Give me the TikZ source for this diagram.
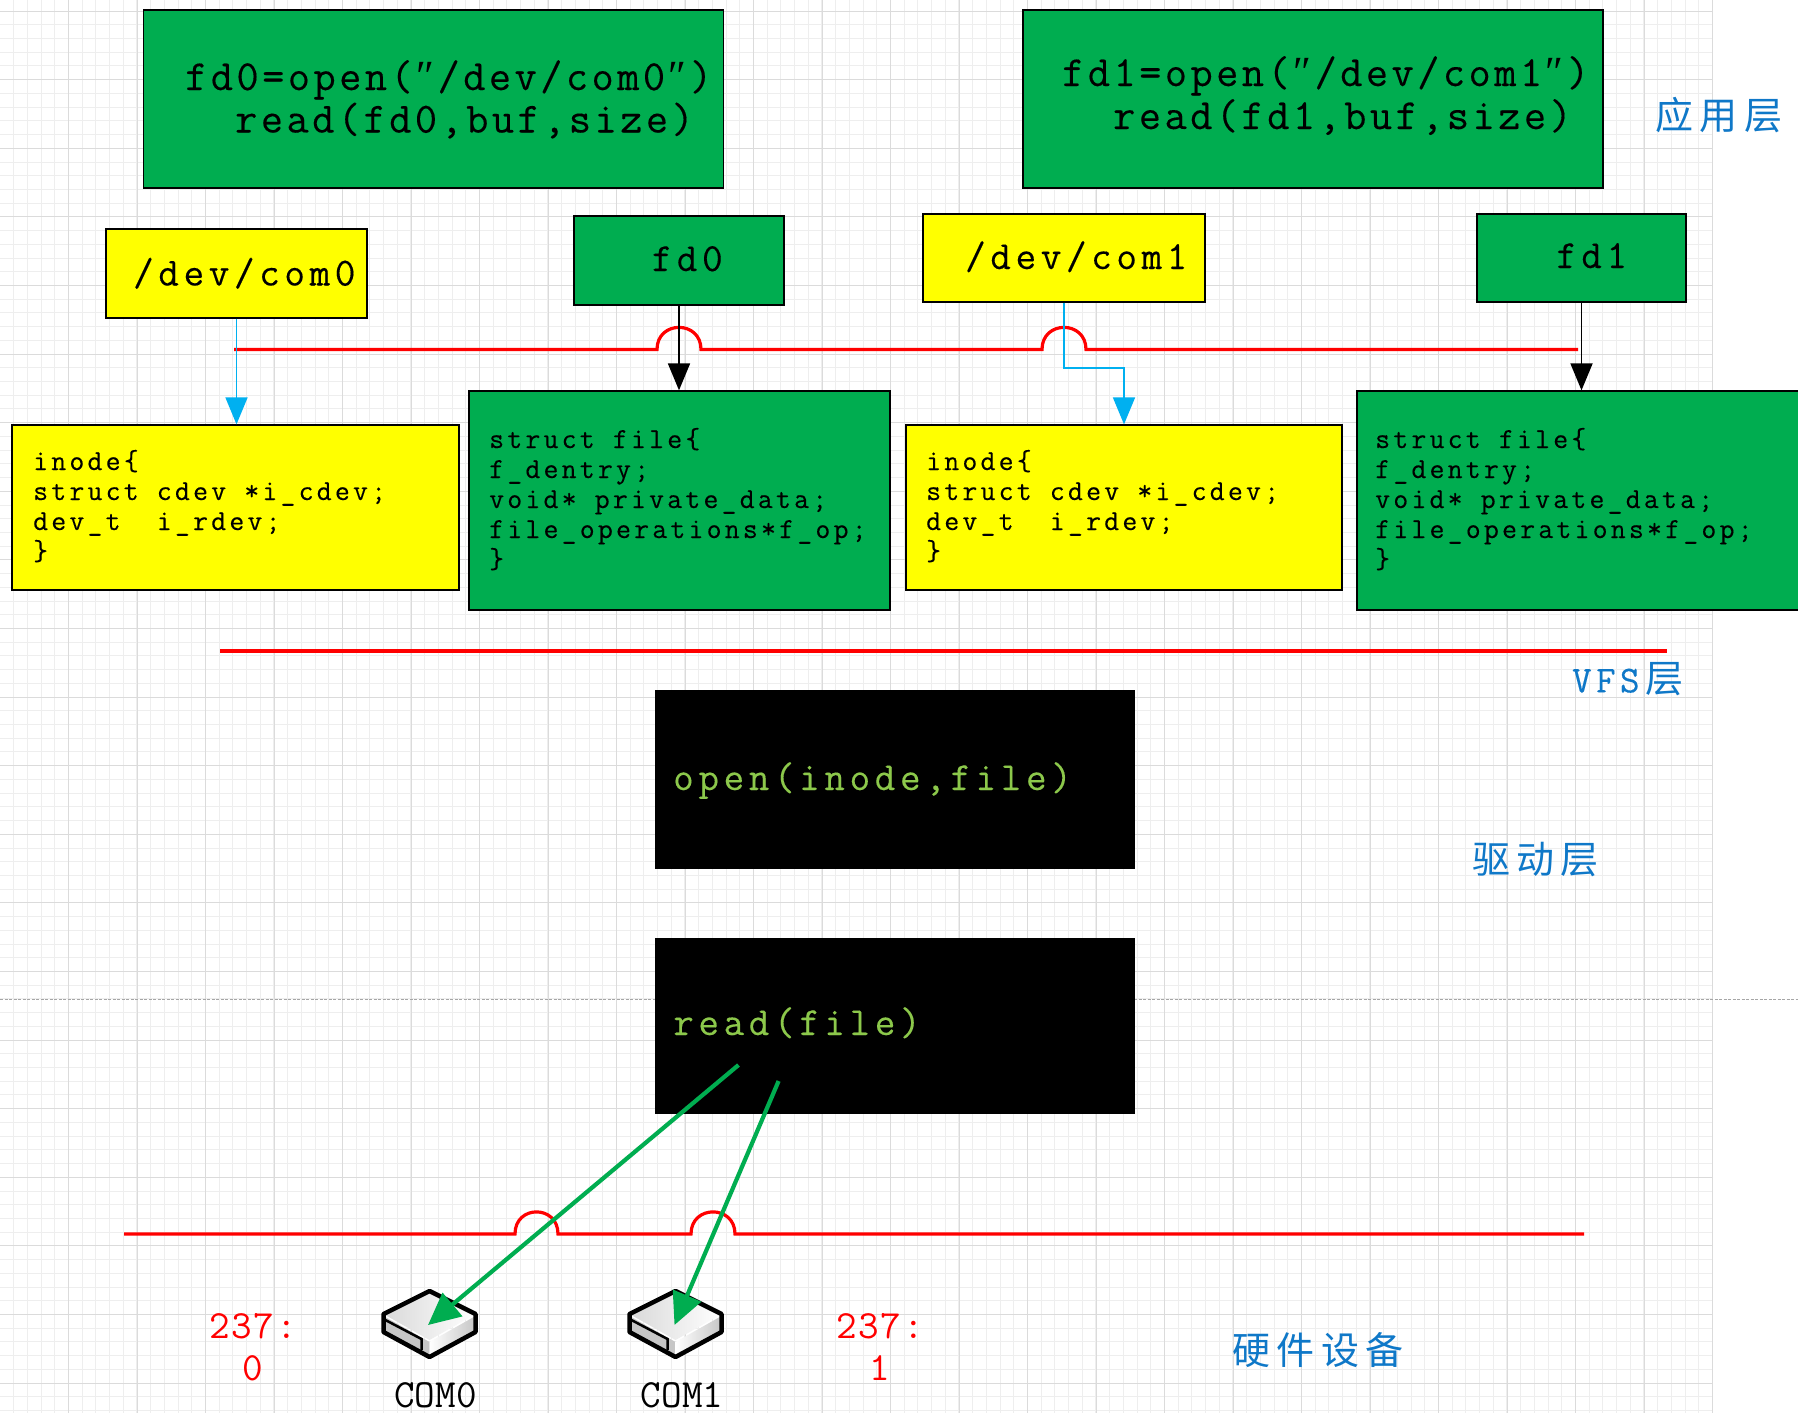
\documentclass[tikz,border=0pt]{standalone}
\usepackage{fontspec}
\usepackage{xcolor}
\usetikzlibrary{arrows.meta}
\newfontfamily\codebig{Latin Modern Mono}[LetterSpace=8.2,FakeBold=0.25]
\newfontfamily\codemid{Latin Modern Mono}[LetterSpace=11.5,FakeBold=0.25]
\newfontfamily\codesmall{Latin Modern Mono}[LetterSpace=11,FakeBold=0.3]
\newfontfamily\devfont{Latin Modern Mono}
\newfontfamily\numfont{Latin Modern Mono}[LetterSpace=4]
\newfontfamily\qfont{Liberation Serif}
\newfontfamily\cjkfont{Noto Sans CJK SC}
\newcommand{\slantq}{\makebox[24.9pt][c]{\qfont ″}}
\definecolor{boxgreen}{HTML}{00AD50}
\definecolor{boxyellow}{HTML}{FFFF00}
\definecolor{arrblue}{HTML}{00B0F0}
\definecolor{labblue}{HTML}{0F78C8}
\definecolor{codegreen}{HTML}{8CC84B}
\definecolor{gridminor}{HTML}{EEEEEE}
\definecolor{gridmajor}{HTML}{DBDBDB}
\tikzset{
  greenbox/.style={draw=black,line width=1.3pt,fill=boxgreen,rectangle,inner sep=0pt},
  yellowbox/.style={draw=black,line width=1.3pt,fill=boxyellow,rectangle,inner sep=0pt},
  blackbox/.style={draw=black,fill=black,rectangle,inner sep=0pt},
  bigtext/.style={anchor=base west,inner sep=0pt,font=\fontsize{43}{43}\selectfont\codebig},
  midtext/.style={anchor=base west,inner sep=0pt,font=\fontsize{40}{40}\selectfont\codemid},
  smalltext/.style={anchor=base west,inner sep=0pt,align=left,font=\fontsize{29}{30}\selectfont\codesmall},
  drvtext/.style={midtext,text=codegreen},
  layertext/.style={anchor=center,inner sep=0pt,text=labblue,font=\fontsize{38}{38}\selectfont\cjkfont},
  numtext/.style={anchor=center,inner sep=0pt,align=center,text=red,font=\fontsize{40}{42}\selectfont\numfont},
  devlabel/.style={anchor=center,inner sep=0pt,font=\fontsize{40}{40}\selectfont\devfont},
  redline/.style={draw=red,line width=3.2pt},
  bluearrow/.style={draw=arrblue,line width=1.7pt,-{Triangle[length=27pt,width=22pt,fill=arrblue]}},
  blackarrow/.style={draw=black,line width=1.8pt,-{Triangle[length=27pt,width=22pt,fill=black]}},
  greenarrow/.style={draw=boxgreen,line width=4.2pt,-{Triangle[length=32pt,width=30pt,fill=boxgreen]}},
  devtop/.style={draw=black,line width=4.5pt,line join=round},
}
\begin{document}
\begin{tikzpicture}[x=1pt,y=-1pt]
\useasboundingbox (0,0) rectangle (1798,1413);
\clip (0,0) rectangle (1798,1413);
\fill[white] (0,0) rectangle (1798,1413);
% grid
\foreach \i in {0,...,125} {\pgfmathsetmacro{\gx}{round(-0.5+13.7*\i)+0.5}
  \draw[gridminor,line width=1.3pt] (\gx,0) -- (\gx,1413);}
\foreach \i in {0,...,103} {\pgfmathsetmacro{\gy}{round(10.6+13.72*\i)+0.5}
  \draw[gridminor,line width=1.3pt] (0,\gy) -- (1712,\gy);}
\foreach \i in {0,...,25} {\pgfmathsetmacro{\gx}{round(-0.5+68.5*\i)+0.5}
  \draw[gridmajor,line width=1.7pt] (\gx,0) -- (\gx,1413);}
\foreach \i in {0,...,20} {\pgfmathsetmacro{\gy}{round(10.6+68.6*\i)+0.5}
  \draw[gridmajor,line width=1.7pt] (0,\gy) -- (1712,\gy);}
\fill[white] (1713,0) rectangle (1798,1413);
\draw[black!35,line width=1pt,dash pattern=on 3pt off 1.5pt] (0,999) -- (1798,999);

% application boxes
\node[greenbox,minimum width=580pt,minimum height=178pt] (appzero) at (433.5,99) {};
\node[greenbox,minimum width=580pt,minimum height=178pt] (appone) at (1313,99) {};
\node[bigtext] (appzeroa) at (185,90) {fd0=open(\slantq/dev/com0\slantq)};
\node[bigtext] (appzerob) at (235,132.5) {read(fd0,buf,size)};
\node[bigtext] (apponea) at (1062,86) {fd1=open(\slantq/dev/com1\slantq)};
\node[bigtext] (apponeb) at (1113,129) {read(fd1,buf,size)};

% name boxes
\node[yellowbox,minimum width=261pt,minimum height=89pt] (devzero) at (236.5,273.5) {};
\node[greenbox,minimum width=210pt,minimum height=89pt] (fdzero) at (679,260.5) {};
\node[yellowbox,minimum width=282pt,minimum height=88pt] (devone) at (1064,258) {};
\node[greenbox,minimum width=209pt,minimum height=88pt] (fdone) at (1581.5,258) {};
\node[midtext] (devzerot) at (133,285.5) {/dev/com0};
\node[midtext] (fdzerot) at (651.5,271) {fd0};
\node[midtext] (devonet) at (965,269) {/dev/com1};
\node[midtext] (fdonet) at (1556,268) {fd1};

% struct boxes
\node[yellowbox,minimum width=447pt,minimum height=165pt] (inodezero) at (235.5,507.5) {};
\node[greenbox,minimum width=421pt,minimum height=219pt] (filezero) at (679.5,500.5) {};
\node[yellowbox,minimum width=436pt,minimum height=165pt] (inodeone) at (1124,507.5) {};
\node[greenbox,minimum width=449pt,minimum height=219pt] (fileone) at (1581.5,500.5) {};
\node[smalltext] (inodezerot) at (33,560) {inode\{\\struct cdev *i\_cdev;\\dev\_t\ \ i\_rdev;\\\}};
\node[smalltext] (filezerot) at (489,568) {struct file\{\\f\_dentry;\\void* private\_data;\\file\_operations*f\_op;\\\}};
\node[smalltext] (inodeonet) at (926,560) {inode\{\\struct cdev *i\_cdev;\\dev\_t\ \ i\_rdev;\\\}};
\node[smalltext] (fileonet) at (1375,568) {struct file\{\\f\_dentry;\\void* private\_data;\\file\_operations*f\_op;\\\}};

% driver boxes
\node[blackbox,minimum width=479pt,minimum height=178pt] (opendrv) at (894.5,779) {};
\node[blackbox,minimum width=479pt,minimum height=175pt] (readdrv) at (894.5,1025.5) {};
\node[drvtext] (opendrvt) at (673,790) {open(inode,file)};
\node[drvtext] (readdrvt) at (673,1035) {read(file)};

% red separators
\coordinate (rowastart) at (234,349.5);
\coordinate (rowaend) at (1578,349.5);
\coordinate (rowbstart) at (220,651);
\coordinate (rowbend) at (1667,651);
\coordinate (rowcstart) at (124,1234);
\coordinate (rowcend) at (1584,1234);
\draw[redline] (rowastart) -- (657,349.5) .. controls (657,320) and (701,320) .. (701,349.5)
  -- (1042,349.5) .. controls (1042,320) and (1086,320) .. (1086,349.5) -- (rowaend);
\draw[redline] (rowbstart) -- (rowbend);
\draw[redline] (rowcstart) -- (515,1234) .. controls (515,1204.5) and (558,1204.5) .. (558,1234)
  -- (691,1234) .. controls (691,1204.5) and (735,1204.5) .. (735,1234) -- (rowcend);

% arrows between boxes
\draw[bluearrow] (devzero.south) -- (devzero.south |- inodezero.north);
\draw[blackarrow] (fdzero.south) -- (fdzero.south |- filezero.north);
\draw[bluearrow] (devone.south) |- (1124,368) -- (inodeone.north);
\draw[blackarrow] (fdone.south) -- (fdone.south |- fileone.north);

% device icons
\foreach \cx/\nm in {429.5/a,675.5/b}{
  \begin{scope}[shift={(\cx,0)}]
    \shade[left color=gray!30,right color=white] (-46,1314) -- (0,1291) -- (46,1314) -- (0,1340) -- cycle;
    \fill[gray!45] (-46,1316) -- (0,1342) -- (0,1357) -- (-46,1333) -- cycle;
    \shade[left color=white,right color=gray!45] (0,1342) -- (46,1316) -- (46,1333) -- (0,1357) -- cycle;
    \draw[devtop] (-46,1314) -- (0,1291) -- (46,1314) -- (46,1332) -- (0,1357) -- (-46,1332) -- cycle;
    \draw[black,line width=2.5pt] (-46,1319) -- (-8,1339) -- (-8,1350);
  \end{scope}
}
\coordinate (arrowastart) at (738.5,1065);
\coordinate (arrowaend) at (428,1325);
\coordinate (arrowbstart) at (778.6,1081);
\coordinate (arrowbend) at (674.5,1325);
\draw[greenarrow] (arrowastart) -- (arrowaend);
\draw[greenarrow] (arrowbstart) -- (arrowbend);

% labels
\node[layertext] (layerapp) at (1719,115) {应\,用\,层};
\node[layertext] (layervfs) at (1628,679) {{\fontsize{38}{38}\selectfont\codemid VFS}\,层};
\node[layertext] (layerdrv) at (1535.5,860) {驱\,动\,层};
\node[layertext] (layerhw) at (1318,1350) {硬\,件\,设\,备};
\node[numtext] (numzero) at (253,1347) {237:\\0};
\node[numtext] (numone) at (880,1347) {237:\\1};
\node[devlabel] (comzero) at (435.5,1395) {COM0};
\node[devlabel] (comone) at (682,1395) {COM1};
\end{tikzpicture}
\end{document}
